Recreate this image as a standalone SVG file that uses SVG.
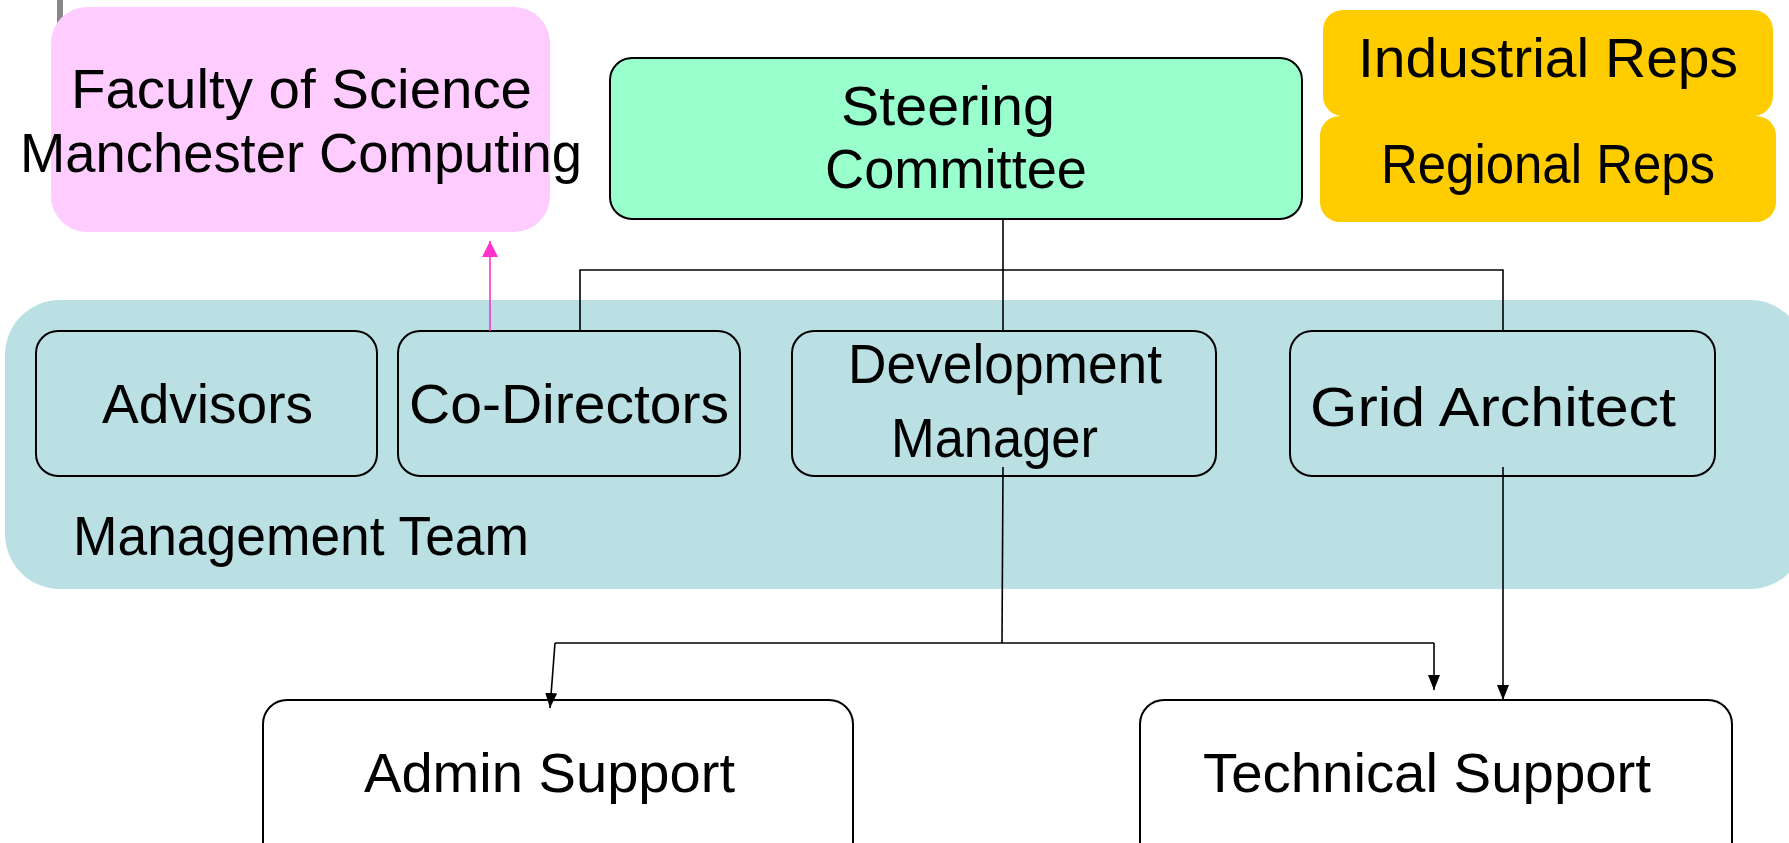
<svg xmlns="http://www.w3.org/2000/svg" width="1789" height="843" viewBox="0 0 1789 843">
<style>
text{font-family:"Liberation Sans",Arial,sans-serif;font-size:56px;fill:#000}
.box{stroke:#000;stroke-width:2}
.team{fill:#BBE0E3}
.conn{stroke:#000;stroke-width:1.6;fill:none}
</style>
<defs>
<marker id="ah" viewBox="0 0 15 12" refX="15" refY="6" markerWidth="15" markerHeight="12" markerUnits="userSpaceOnUse" orient="auto">
<path d="M0,0 L15,6 L0,12 Z" fill="#000"/>
</marker>
<marker id="ahp" viewBox="0 0 16 16" refX="16" refY="8" markerWidth="16" markerHeight="16" markerUnits="userSpaceOnUse" orient="auto">
<path d="M0,0 L16,8 L0,16 Z" fill="#FF33CC"/>
</marker>
</defs>
<rect x="0" y="0" width="1789" height="843" fill="#fff"/>
<rect x="57" y="0" width="6" height="25" fill="#888"/>
<g id="management-team">
<rect class="team" x="5" y="300" width="1800" height="289" rx="55"/>
<text x="73" y="555" textLength="456" lengthAdjust="spacingAndGlyphs">Management Team</text>
</g>
<g id="faculty">
<rect x="51" y="7" width="499" height="225" rx="36" fill="#FFCCFF"/>
<text x="71" y="108" textLength="461" lengthAdjust="spacingAndGlyphs">Faculty of Science</text>
<text x="20" y="172" textLength="562" lengthAdjust="spacingAndGlyphs">Manchester Computing</text>
</g>
<g id="steering">
<rect class="box" x="610" y="58" width="692" height="161" rx="22" fill="#99FFCC"/>
<text x="841" y="125" textLength="214" lengthAdjust="spacingAndGlyphs">Steering</text>
<text x="825" y="188" textLength="262" lengthAdjust="spacingAndGlyphs">Committee</text>
</g>
<g id="industrial">
<rect x="1323" y="10" width="450" height="106" rx="20" fill="#FFCC00"/>
<text x="1358" y="77" textLength="380" lengthAdjust="spacingAndGlyphs">Industrial Reps</text>
</g>
<g id="regional">
<rect x="1320" y="116" width="456" height="106" rx="20" fill="#FFCC00"/>
<text x="1381" y="183" textLength="334" lengthAdjust="spacingAndGlyphs">Regional Reps</text>
</g>
<g id="advisors">
<rect class="box team" x="36" y="331" width="341" height="145" rx="22"/>
<text x="102" y="423" textLength="211" lengthAdjust="spacingAndGlyphs">Advisors</text>
</g>
<g id="co-directors">
<rect class="box team" x="398" y="331" width="342" height="145" rx="22"/>
<text x="409" y="423" textLength="320" lengthAdjust="spacingAndGlyphs">Co-Directors</text>
</g>
<g id="development-manager">
<rect class="box team" x="792" y="331" width="424" height="145" rx="22"/>
<text x="848" y="383" textLength="314" lengthAdjust="spacingAndGlyphs">Development</text>
<text x="891" y="457" textLength="207" lengthAdjust="spacingAndGlyphs">Manager</text>
</g>
<g id="grid-architect">
<rect class="box team" x="1290" y="331" width="425" height="145" rx="22"/>
<text x="1310" y="426" textLength="366" lengthAdjust="spacingAndGlyphs">Grid Architect</text>
</g>
<g id="admin-support">
<rect class="box" x="263" y="700" width="590" height="170" rx="24" fill="#fff"/>
<text x="364" y="792" textLength="371" lengthAdjust="spacingAndGlyphs">Admin Support</text>
</g>
<g id="technical-support">
<rect class="box" x="1140" y="700" width="592" height="170" rx="24" fill="#fff"/>
<text x="1203" y="792" textLength="448" lengthAdjust="spacingAndGlyphs">Technical Support</text>
</g>
<g id="connectors">
<line class="conn" x1="1003" y1="219" x2="1003" y2="331"/>
<polyline class="conn" points="580,331 580,270 1503,270 1503,331"/>
<line x1="490" y1="331" x2="490" y2="241" stroke="#FF33CC" stroke-width="1.6" marker-end="url(#ahp)"/>
<line class="conn" x1="1003" y1="467" x2="1002" y2="643"/>
<line class="conn" x1="555" y1="643" x2="1434" y2="643"/>
<line class="conn" x1="555" y1="643" x2="550" y2="708" marker-end="url(#ah)"/>
<line class="conn" x1="1434" y1="643" x2="1434" y2="690" marker-end="url(#ah)"/>
<line class="conn" x1="1503" y1="467" x2="1503" y2="700" marker-end="url(#ah)"/>
</g>
</svg>
